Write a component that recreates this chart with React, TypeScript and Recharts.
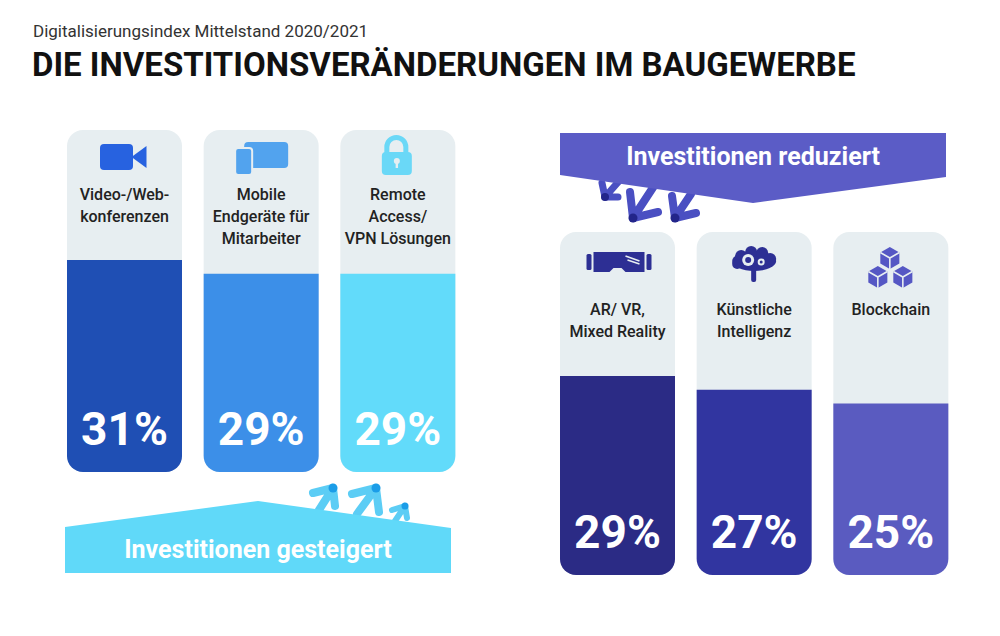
import React from 'react'
import { BarChart, Bar, XAxis, YAxis, Cell, LabelList } from 'recharts'

// data
const increasedCategories = ['Video-/Web-|konferenzen', 'Mobile|Endgeräte für|Mitarbeiter', 'Remote|Access/|VPN Lösungen']
const increasedValues = [31, 29, 29]
const increasedIcons = ['video', 'mobile', 'lock']

const reducedCategories = ['AR/ VR,|Mixed Reality', 'Künstliche|Intelligenz', 'Blockchain']
const reducedValues = [29, 27, 25]
const reducedIcons = ['vr', 'brain', 'cubes']

const increasedColors = ['#1f4fb4', '#3c8fe8', '#62dbfa']
const reducedColors = ['#2b2b85', '#3135a0', '#5a5bc0']

const FONT = 'Roboto, "Noto Sans", sans-serif'
const TRACK = '#e7eef1'
const CHART_W = 410

function cube(x: number, y: number, r: number, key: string) {
  const k = 0.866 * r
  const pts = [
    [x, y - r], [x + k, y - r / 2], [x + k, y + r / 2],
    [x, y + r], [x - k, y + r / 2], [x - k, y - r / 2],
  ].map((p) => p.join(',')).join(' ')
  return (
    <g key={key}>
      <polygon points={pts} fill="#5557c4" />
      <path d={`M${x - k},${y - r / 2} L${x},${y} L${x + k},${y - r / 2} M${x},${y} L${x},${y + r}`} stroke={TRACK} strokeWidth={1.6} fill="none" />
    </g>
  )
}

function Icon({ name, cx, top }: { name: string; cx: number; top: number }) {
  switch (name) {
    case 'video':
      return (
        <g fill="#2762e0">
          <rect x={cx - 24.5} y={top + 14} width={33} height={26} rx={4} />
          <polygon points={`${cx + 7},${top + 27} ${cx + 22},${top + 16} ${cx + 22},${top + 38}`} />
        </g>
      )
    case 'mobile':
      return (
        <g fill="#52a3ee">
          <rect x={cx - 17} y={top + 12} width={44} height={26} rx={4} />
          <rect x={cx - 26} y={top + 18} width={17} height={27} rx={3} stroke={TRACK} strokeWidth={2} />
        </g>
      )
    case 'lock':
      return (
        <g>
          <path d={`M${cx - 11},${top + 24} V${top + 17} A9.5 9.5 0 0 1 ${cx + 8},${top + 17} V${top + 24}`} stroke="#6ad8f7" strokeWidth={5} fill="none" />
          <rect x={cx - 16} y={top + 22} width={30} height={23} rx={4} fill="#6ad8f7" />
          <circle cx={cx - 1} cy={top + 31} r={3} fill={TRACK} />
          <rect x={cx - 2.2} y={top + 32} width={2.4} height={6} fill={TRACK} />
        </g>
      )
    case 'vr':
      return (
        <g fill="#2d2f94">
          <rect x={cx - 31} y={top + 22} width={5} height={16} rx={1.5} />
          <rect x={cx + 29} y={top + 22} width={5} height={16} rx={1.5} />
          <path d={`M${cx - 24},${top + 20} H${cx + 27} V${top + 40} H${cx + 8} L${cx + 4},${top + 36} H${cx - 4} L${cx - 8},${top + 40} H${cx - 24} Z`} />
          <path d={`M${cx + 8},${top + 24} L${cx + 22},${top + 29} M${cx + 10},${top + 28} L${cx + 22},${top + 32}`} stroke={TRACK} strokeWidth={1.5} />
        </g>
      )
    case 'brain':
      return (
        <g fill="#2d2f94">
          <ellipse cx={cx} cy={top + 29} rx={22} ry={10} />
          <circle cx={cx - 13} cy={top + 24} r={6} />
          <circle cx={cx - 3} cy={top + 20} r={6} />
          <circle cx={cx + 8} cy={top + 21} r={6} />
          <circle cx={cx + 16} cy={top + 27} r={6} />
          <circle cx={cx - 17} cy={top + 32} r={5} />
          <rect x={cx - 3} y={top + 34} width={5} height={16} rx={2} />
          <circle cx={cx - 6} cy={top + 28} r={6} fill={TRACK} />
          <circle cx={cx - 6} cy={top + 28} r={3} fill="#2d2f94" />
          <circle cx={cx + 7} cy={top + 30} r={3.5} fill={TRACK} />
          <circle cx={cx + 7} cy={top + 30} r={1.5} fill="#2d2f94" />
        </g>
      )
    case 'cubes':
      return (
        <g>
          {cube(cx - 1, top + 26, 11, 'a')}
          {cube(cx - 13, top + 45, 11, 'b')}
          {cube(cx + 12, top + 45, 11, 'c')}
        </g>
      )
    default:
      return null
  }
}

type GroupProps = {
  categories: string[]
  values: number[]
  icons: string[]
  colors: string[]
  left: number
  top: number
  height: number
  labelOffset: number
}

function Group({ categories, values, icons, colors, left, top, height, labelOffset }: GroupProps) {
  const data = categories.map((c, i) => ({ category: c, value: values[i] }))

  const renderCategory = (props: any) => {
    const { x, y, width, height: h, index } = props
    const cx = Number(x) + Number(width) / 2
    const plotTop = Number(y) + Number(h) - height
    const lines = String(categories[index]).split('|')
    return (
      <g key={`cat-${index}`}>
        <Icon name={icons[index]} cx={cx} top={plotTop} />
        <text x={cx} y={plotTop + labelOffset} textAnchor="middle" fontFamily={FONT} fontSize={16} fontWeight={500} fill="#222">
          {lines.map((l, j) => (
            <tspan key={j} x={cx} dy={j === 0 ? 0 : 22}>{l}</tspan>
          ))}
        </text>
      </g>
    )
  }

  const renderValue = (props: any) => {
    const { x, y, width, height: h, value, index } = props
    return (
      <text key={`val-${index}`} x={Number(x) + Number(width) / 2} y={Number(y) + Number(h) - 27} textAnchor="middle"
        fontFamily={FONT} fontSize={46} fontWeight={700} fill="#ffffff">
        {`${value}%`}
      </text>
    )
  }

  return (
    <div style={{ position: 'absolute', left, top }}>
      <BarChart width={CHART_W} height={height} data={data} margin={{ top: 0, right: 0, left: 0, bottom: 0 }} barSize={115}>
        <XAxis dataKey="category" hide />
        <YAxis domain={[0, 50]} hide />
        <Bar dataKey="value" isAnimationActive={false} radius={[0, 0, 16, 16]} background={{ fill: TRACK, radius: 16 }}>
          {data.map((d, i) => (
            <Cell key={d.category} fill={colors[i]} />
          ))}
          <LabelList dataKey="value" content={renderValue} />
          <LabelList dataKey="category" content={renderCategory} />
        </Bar>
      </BarChart>
    </div>
  )
}

function Arrow({ tip, tail, a1, a2, color, tipColor, w }: { tip: number[]; tail: number[]; a1: number[]; a2: number[]; color: string; tipColor: string; w: number }) {
  const d = `M${tail[0]},${tail[1]} L${tip[0]},${tip[1]} M${a1[0]},${a1[1]} L${tip[0]},${tip[1]} L${a2[0]},${a2[1]}`
  return (
    <g>
      <path d={d} stroke={color} strokeWidth={w} strokeLinecap="round" strokeLinejoin="round" fill="none" />
      <circle cx={tip[0]} cy={tip[1]} r={w / 2 + 0.5} fill={tipColor} />
    </g>
  )
}

export default function App() {
  return (
    <div style={{ position: 'absolute', left: 0, top: 0, width: 1000, height: 636, background: '#fff', overflow: 'hidden' }}>
      <svg width={1000} height={636} style={{ position: 'absolute', left: 0, top: 0 }}>
        <text x={33} y={37} fontFamily={FONT} fontSize={17} fill="#333">Digitalisierungsindex Mittelstand 2020/2021</text>
        <text x={32} y={76} fontFamily={FONT} fontSize={33} fontWeight={700} fill="#111">DIE INVESTITIONSVERÄNDERUNGEN IM BAUGEWERBE</text>

        <Arrow tail={[620, 180]} tip={[605, 197]} a1={[602, 183]} a2={[618, 197]} color="#4a4fc2" tipColor="#23258a" w={7} />
        <Arrow tail={[654, 186]} tip={[633, 218]} a1={[630, 192]} a2={[658, 212]} color="#4a4fc2" tipColor="#23258a" w={8} />
        <Arrow tail={[691, 194]} tip={[675, 218]} a1={[672, 196]} a2={[696, 213]} color="#4a4fc2" tipColor="#23258a" w={8} />
        <polygon points="560,133 946,133 946,177 753,203 560,175" fill="#5b5cc6" />
        <text x={753} y={165} textAnchor="middle" fontFamily={FONT} fontSize={25} fontWeight={700} fill="#fff">Investitionen reduziert</text>

        <Arrow tail={[319, 510]} tip={[333, 488]} a1={[313, 493]} a2={[335, 506]} color="#5ccdf5" tipColor="#1b9de8" w={8} />
        <Arrow tail={[357, 514]} tip={[376, 488]} a1={[352, 494]} a2={[379, 512]} color="#5ccdf5" tipColor="#1b9de8" w={8} />
        <Arrow tail={[395, 521]} tip={[405, 506]} a1={[392, 510]} a2={[407, 518]} color="#5ccdf5" tipColor="#1b9de8" w={6} />
        <polygon points="65,527 258,501 451,528 451,573 65,573" fill="#60d9f9" />
        <text x={258} y={558} textAnchor="middle" fontFamily={FONT} fontSize={25} fontWeight={700} fill="#fff">Investitionen gesteigert</text>
      </svg>

      <Group categories={increasedCategories} values={increasedValues} icons={increasedIcons} colors={increasedColors}
        left={56} top={130} height={342} labelOffset={70} />
      <Group categories={reducedCategories} values={reducedValues} icons={reducedIcons} colors={reducedColors}
        left={549} top={232} height={343} labelOffset={83} />
    </div>
  )
}
